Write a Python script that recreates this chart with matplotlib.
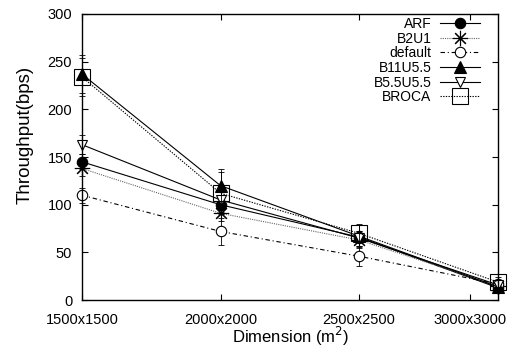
import numpy as np
import matplotlib
matplotlib.use("Agg")
import matplotlib.pyplot as plt

plt.rcParams["font.family"] = ["Liberation Sans", "DejaVu Sans"]

# --- data ---
dims = ["1500x1500", "2000x2000", "2500x2500", "3000x3000"]
xpos = [0, 1, 2, 3]
tick_pos = [0, 1, 2, 2.8]

arf = [145, 100, 66, 13]
b2u1 = [138, 91, 63, 15]
default = [110, 72, 46, 17]
b11u55 = [237, 120, 67, 14]
b55u55 = [163, 105, 65, 16]
broca = [234, 112, 70, 19]

arf_err = [8, 8, 6, 4]
b2u1_err = [8, 8, 6, 4]
default_err = [8, 14, 10, 4]
b11u55_err = [20, 17, 12, 5]
b55u55_err = [10, 10, 8, 4]
broca_err = [20, 22, 10, 5]

series = [
    ("ARF", arf, arf_err, dict(ls="-", marker="o", mfc="black", ms=7.5, color="black")),
    ("B2U1", b2u1, b2u1_err, dict(ls=(0, (1, 1)), marker=(8, 2, 0), mfc="none", ms=11, color="#666666", mec="black")),
    ("default", default, default_err, dict(ls=(0, (4, 2.5, 1, 2.5)), marker="o", mfc="white", ms=7.5, color="black")),
    ("B11U5.5", b11u55, b11u55_err, dict(ls="-", marker="^", mfc="black", ms=9, color="black")),
    ("B5.5U5.5", b55u55, b55u55_err, dict(ls="-", marker="v", mfc="white", ms=7, color="black")),
    ("BROCA", broca, broca_err, dict(ls=(0, (1.2, 1.2)), marker="s", mfc="none", ms=11, color="black", mec="black")),
]

fig = plt.figure(figsize=(5.09, 3.49), dpi=100)
ax = fig.add_axes([0.161, 0.140, 0.817, 0.820])

for name, vals, err, st in series:
    ax.errorbar(xpos, vals, yerr=err, fmt="none", elinewidth=0.6,
                capsize=2.5, capthick=0.6, ecolor="black", clip_on=False)
    ax.plot(xpos, vals, label=name, lw=0.8, mew=0.8, clip_on=False, **st)

ax.set_xlim(0, 3)
ax.set_ylim(0, 300)
ax.set_xticks(tick_pos)
ax.set_xticklabels(dims)
ax.set_yticks(np.arange(0, 301, 50))
ax.tick_params(direction="in", top=True, right=True, labelsize=10.5, length=4, width=0.8)
ax.tick_params(axis="x", pad=9)
ax.tick_params(axis="y", pad=7)
for s in ax.spines.values():
    s.set_linewidth(1.0)

ax.set_xlabel("Dimension (m$^2$)", fontsize=12, va="center")
ax.xaxis.set_label_coords(0.502, -0.128)
ax.set_ylabel("Throughput(bps)", fontsize=13.5, va="center")
ax.yaxis.set_label_coords(-0.137, 0.577)

leg = ax.legend(loc="upper right", bbox_to_anchor=(0.957, 0.99), markerfirst=False,
                fontsize=10, frameon=False, borderaxespad=0, handlelength=2.9,
                labelspacing=0.05, borderpad=0, handletextpad=0.6)
for t in leg.get_texts():
    t.set_ha("right")

fig.savefig("out.png", dpi=100)
